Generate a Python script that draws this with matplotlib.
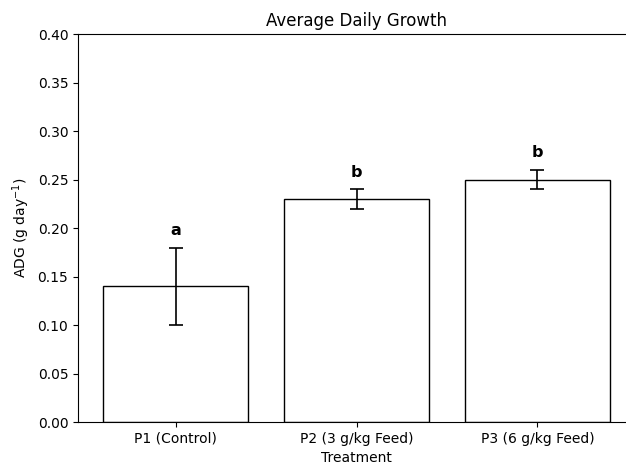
import matplotlib
matplotlib.use("Agg")

import matplotlib.pyplot as plt
import numpy as np

treatments = ["P1 (Control)", "P2 (3 g/kg Feed)", "P3 (6 g/kg Feed)"]
adg = [0.14, 0.23, 0.25]
adg_sd = [0.04, 0.01, 0.01]
letters = ["a", "b", "b"]

fig = plt.figure(figsize=(6.26, 4.68), dpi=100)
# the original figure was cropped on the right, so the axes run past the edge
ax = fig.add_axes([0.1246, 0.098, 0.89, 0.829])

x = np.arange(len(treatments))
ax.bar(x, adg, width=0.8, yerr=adg_sd, capsize=5, color="white",
       edgecolor="black", linewidth=1.0, error_kw={"elinewidth": 1.2, "capthick": 1.2})

for xi, m, s, lab in zip(x, adg, adg_sd, letters):
    ax.text(xi, m + s + 0.01, lab, ha="center", va="bottom", fontweight="bold", fontsize=11.5)

ax.spines["right"].set_visible(False)
ax.set_xticks(x)
ax.set_xticklabels(treatments)
ax.set_ylim(0, 0.40)
ax.set_yticks(np.arange(0, 0.41, 0.05))
ax.set_xlabel("Treatment")
ax.set_ylabel("ADG (g day$^{-1}$)")
ax.set_title("Average Daily Growth")

fig.savefig("out.png", dpi=100)
